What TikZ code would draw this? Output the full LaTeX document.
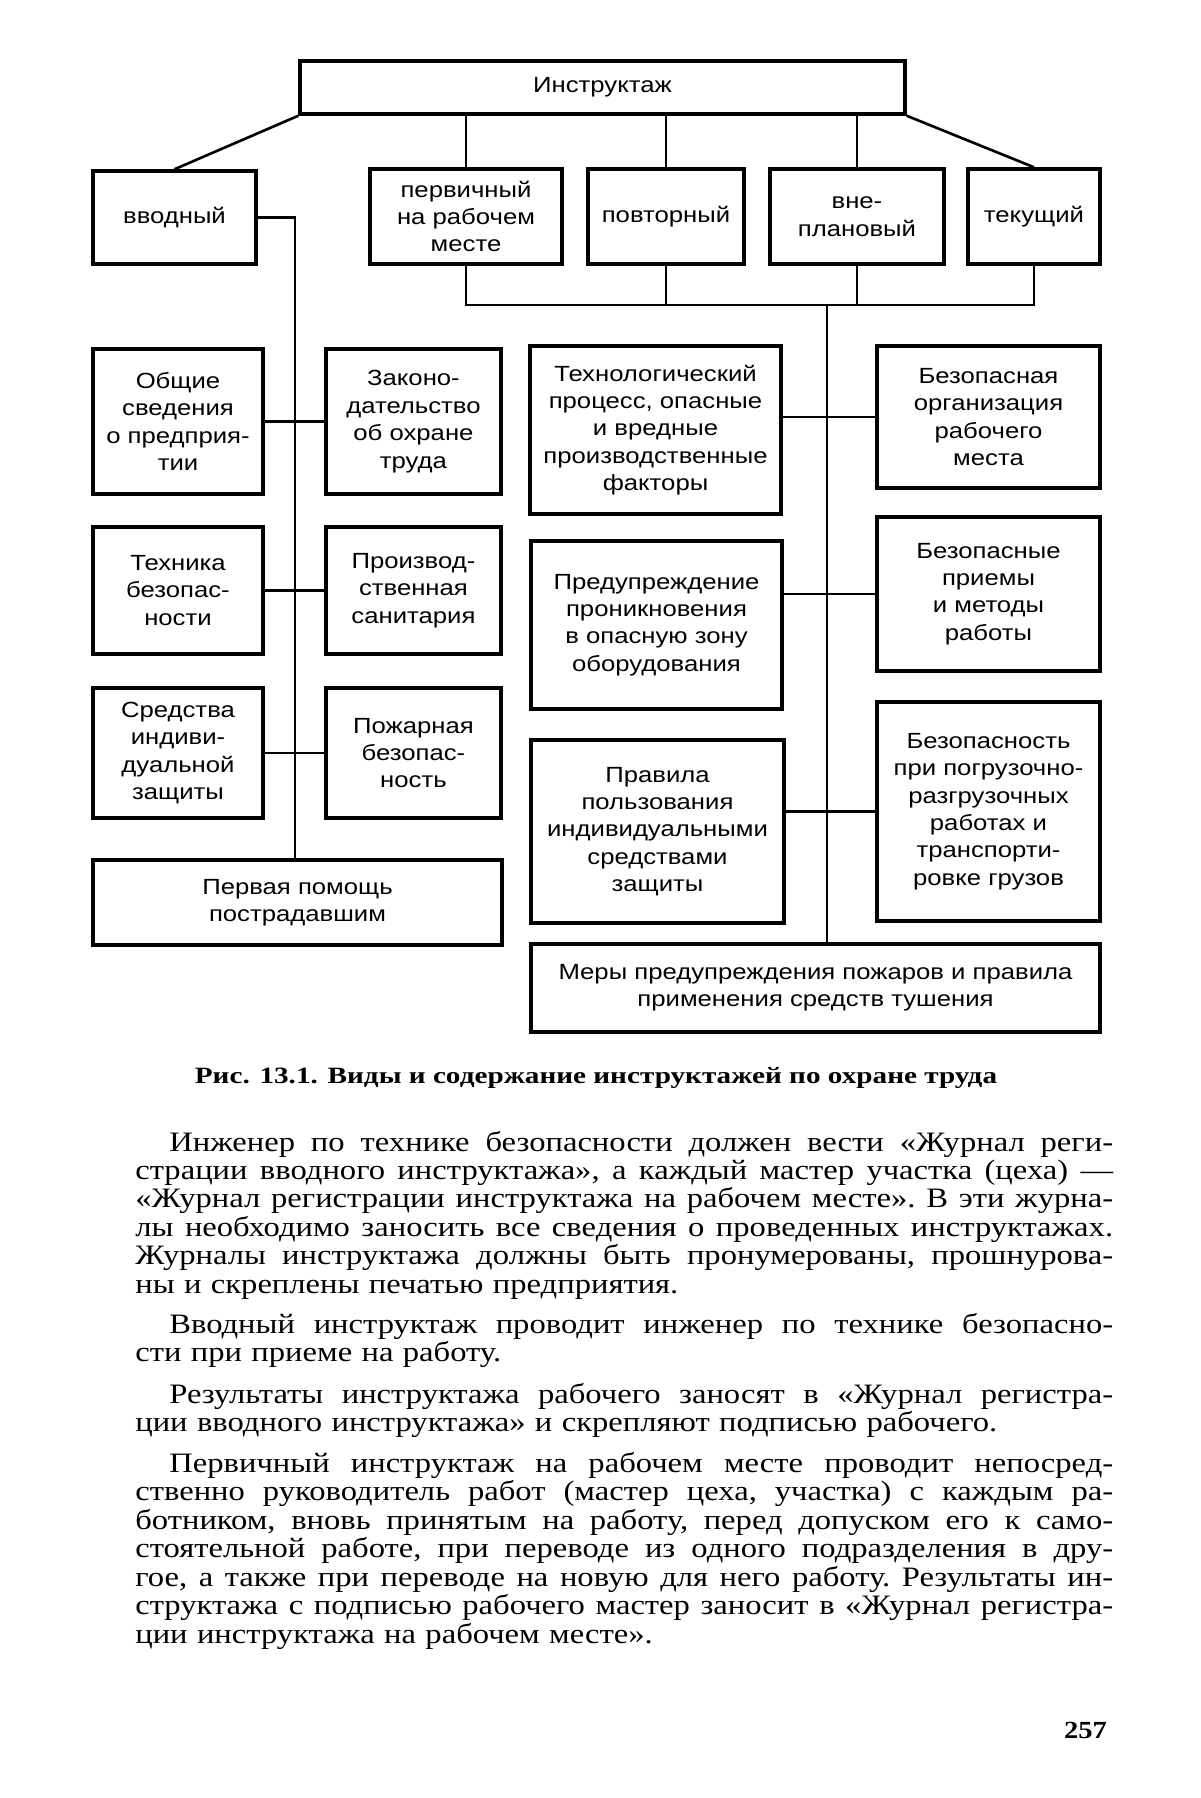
\documentclass[tikz,border=0pt]{standalone}
\usepackage{fontspec}
\setmainfont{Liberation Serif}
\newfontfamily\diagfont[FakeStretch=1.17]{Liberation Sans}
\newfontfamily\bodyfnt[FakeStretch=1.16]{Liberation Serif}
\newfontfamily\capfnt[FakeStretch=1.25]{Liberation Serif}
\usetikzlibrary{positioning}

\newlength{\pind}
\setlength{\pind}{0.68cm}
\newlength{\txtw}
\setlength{\txtw}{19.56cm}
\newcommand{\fline}[1]{\leavevmode\hspace*{\pind}\hbox to \dimexpr\txtw-\pind\relax{\spaceskip=0.25em plus 3em minus 0.05em #1}}
\newcommand{\jline}[1]{\leavevmode\hbox to \txtw{\spaceskip=0.25em plus 3em minus 0.05em #1}}

\begin{document}
\begin{tikzpicture}[x=0.02cm, y=-0.02cm,
  box/.style={draw, line width=2pt, align=center, inner sep=2pt,
    font=\diagfont\fontsize{12.5}{15.6}\selectfont},
  line/.style={line width=1.5pt},
  para/.style={anchor=base west, text width=\txtw, align=left, inner sep=0pt,
    font=\bodyfnt\fontsize{16}{16.2}\selectfont\frenchspacing}
]
  \useasboundingbox (0,0) rectangle (1200,1798);

  % Top level and kinds of instruction
  \node[box, minimum width=12.1cm, minimum height=1.06cm] (instr) at (602.5,87.5) {Инструктаж};
  \node[box, minimum width=3.26cm, minimum height=1.86cm] (vvod) at (174.5,217.5) {вводный};
  \node[box, minimum width=3.84cm, minimum height=1.9cm] (perv) at (466,216.5) {первичный\\на рабочем\\месте};
  \node[box, minimum width=3.12cm, minimum height=1.9cm, right=0.45cm of perv] (povt) {повторный};
  \node[box, minimum width=3.48cm, minimum height=1.9cm, right=0.45cm of povt] (vnepl) {вне-\\плановый};
  \node[box, minimum width=2.64cm, minimum height=1.9cm, right=0.41cm of vnepl] (tek) {текущий};

  % Introductory instruction topics
  \node[box, minimum width=3.4cm, minimum height=2.9cm] (obsh) at (178,421.5) {Общие\\сведения\\о предприя-\\тии};
  \node[box, minimum width=3.5cm, minimum height=2.9cm, right=1.19cm of obsh] (zakon) {Законо-\\дательство\\об охране\\труда};
  \node[box, minimum width=3.4cm, minimum height=2.54cm, below=0.59cm of obsh] (tehn) {Техника\\безопас-\\ности};
  \node[box, minimum width=3.5cm, minimum height=2.54cm, below=0.59cm of zakon] (proizv) {Производ-\\ственная\\санитария};
  \node[box, minimum width=3.4cm, minimum height=2.6cm, below=0.61cm of tehn] (sredstva) {Средства\\индиви-\\дуальной\\защиты};
  \node[box, minimum width=3.5cm, minimum height=2.6cm, below=0.61cm of proizv] (pozh) {Пожарная\\безопас-\\ность};
  \node[box, minimum width=8.18cm, minimum height=1.7cm] (pomosch) at (297.5,902.5) {Первая помощь\\пострадавшим};

  % Workplace instruction topics
  \node[box, minimum width=5.02cm, minimum height=3.36cm] (tehproc) at (655.5,430) {Технологический\\процесс, опасные\\и вредные\\производственные\\факторы};
  \node[box, minimum width=4.46cm, minimum height=2.84cm] (bezorg) at (988.5,417) {Безопасная\\организация\\рабочего\\места};
  \node[box, minimum width=5.02cm, minimum height=3.36cm] (predupr) at (656.5,625) {Предупреждение\\проникновения\\в опасную зону\\оборудования};
  \node[box, minimum width=4.46cm, minimum height=3.08cm] (priemy) at (988.5,594) {Безопасные\\приемы\\и методы\\работы};
  \node[box, minimum width=5.06cm, minimum height=3.66cm] (pravila) at (657.5,831.5) {Правила\\пользования\\индивидуальными\\средствами\\защиты};
  \node[box, minimum width=4.46cm, minimum height=4.38cm] (pogruz) at (988.5,811.5) {Безопасность\\при погрузочно-\\разгрузочных\\работах и\\транспорти-\\ровке грузов};
  \node[box, minimum width=11.38cm, minimum height=1.76cm] (mery) at (815.5,988) {Меры предупреждения пожаров и правила\\применения средств тушения};

  % Connectors
  \coordinate (lsp) at (295,300);
  \coordinate (bus) at (827,305);
  \draw[line] (instr.south west) -- (vvod.north);
  \draw[line] (instr.south east) -- (tek.north);
  \foreach \n in {perv,povt,vnepl}
    \draw[line] (instr.south -| \n.north) -- (\n.north);
  \draw[line] (perv.south) |- (bus -| tek.south) -- (tek.south);
  \draw[line] (povt.south) -- (povt.south |- bus);
  \draw[line] (vnepl.south) -- (vnepl.south |- bus);
  \draw[line] (bus) -- (bus |- mery.north);
  \draw[line] (vvod.east) -| (lsp |- pomosch.north);
  \draw[line] (obsh.east) -- (zakon.west);
  \draw[line] (tehn.east) -- (proizv.west);
  \draw[line] (sredstva.east) -- (pozh.west);
  \draw[line] (tehproc.east |- bezorg.west) -- (bezorg.west);
  \draw[line] (predupr.east |- priemy.west) -- (priemy.west);
  \draw[line] (pravila.east |- pogruz.west) -- (pogruz.west);

  % Caption and page text
  \node[font=\capfnt\bfseries\fontsize{13.3}{15}\selectfont] (caption) at (596,1078) {Рис. 13.1. Виды и содержание инструктажей по охране труда};

  \node[para] (p1) at (135,1151) {\fline{Инженер по технике безопасности должен вести «Журнал реги-}\\
    \jline{страции вводного инструктажа», а каждый мастер участка (цеха) —}\\
    \jline{«Журнал регистрации инструктажа на рабочем месте». В эти журна-}\\
    \jline{лы необходимо заносить все сведения о проведенных инструктажах.}\\
    \jline{Журналы инструктажа должны быть пронумерованы, прошнурова-}\\
    ны и скреплены печатью предприятия.};
  \node[para] (p2) at (135,1333.5) {\fline{Вводный инструктаж проводит инженер по технике безопасно-}\\
    сти при приеме на работу.};
  \node[para] (p3) at (135,1403.5) {\fline{Результаты инструктажа рабочего заносят в «Журнал регистра-}\\
    ции вводного инструктажа» и скрепляют подписью рабочего.};
  \node[para] (p4) at (135,1472.5) {\fline{Первичный инструктаж на рабочем месте проводит непосред-}\\
    \jline{ственно руководитель работ (мастер цеха, участка) с каждым ра-}\\
    \jline{ботником, вновь принятым на работу, перед допуском его к само-}\\
    \jline{стоятельной работе, при переводе из одного подразделения в дру-}\\
    \jline{гое, а также при переводе на новую для него работу. Результаты ин-}\\
    \jline{структажа с подписью рабочего мастер заносит в «Журнал регистра-}\\
    ции инструктажа на рабочем месте».};

  \node[anchor=base east, font=\bodyfnt\bfseries\fontsize{14}{16}\selectfont] (page) at (1113,1738) {257};
\end{tikzpicture}
\end{document}
